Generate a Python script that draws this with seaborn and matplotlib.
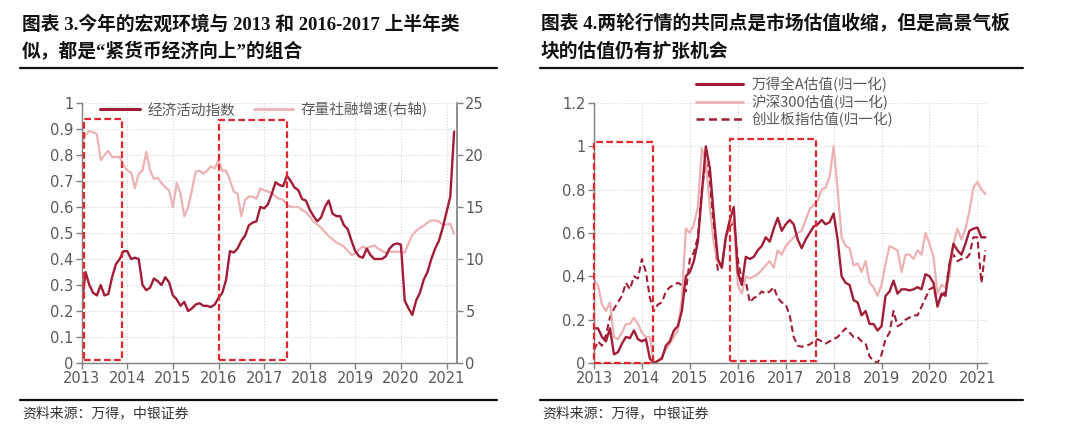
import numpy as np
import pandas as pd
import matplotlib
matplotlib.use('Agg')
import matplotlib.pyplot as plt
import seaborn as sns
from matplotlib.patches import Rectangle
from matplotlib.lines import Line2D

# monthly data, Jan 2013 .. Mar 2021
econ_index = [0.22, 0.35, 0.30, 0.27, 0.26, 0.30, 0.26, 0.265, 0.33, 0.38, 0.40, 0.43,
              0.43, 0.40, 0.405, 0.40, 0.30, 0.28, 0.29, 0.325, 0.315, 0.30, 0.33, 0.31,
              0.26, 0.245, 0.22, 0.235, 0.20, 0.21, 0.225, 0.23, 0.22, 0.22, 0.215, 0.225,
              0.25, 0.27, 0.32, 0.43, 0.425, 0.44, 0.47, 0.49, 0.53, 0.54, 0.545, 0.60,
              0.595, 0.61, 0.65, 0.695, 0.685, 0.68, 0.72, 0.70, 0.675, 0.665, 0.63, 0.625,
              0.59, 0.565, 0.545, 0.56, 0.60, 0.625, 0.575, 0.565, 0.565, 0.53, 0.515, 0.47,
              0.43, 0.41, 0.405, 0.44, 0.415, 0.40, 0.40, 0.40, 0.41, 0.44, 0.455, 0.46,
              0.455, 0.24, 0.21, 0.185, 0.24, 0.27, 0.32, 0.35, 0.40, 0.44, 0.47, 0.52,
              0.58, 0.64, 0.89]
credit_growth = [21.1, 21.9, 22.3, 22.2, 22.0, 19.5, 20.0, 20.4, 19.8, 19.8, 19.8, 19.0,
                 18.5, 18.3, 16.8, 18.2, 18.5, 20.3, 18.5, 17.7, 17.8, 17.3, 16.9, 16.6,
                 15.0, 17.3, 16.3, 14.1, 15.0, 16.6, 18.4, 18.5, 18.2, 18.5, 18.9, 18.7,
                 19.5, 18.5, 18.5, 17.6, 16.5, 16.3, 14.1, 15.7, 16.0, 16.0, 15.8, 16.8,
                 16.6, 16.5, 16.3, 16.0, 15.8, 15.7, 15.2, 15.0, 15.0, 15.0, 14.7, 14.5,
                 14.1, 13.6, 13.3, 13.0, 12.6, 12.2, 11.9, 11.6, 11.4, 11.2, 10.8, 10.4,
                 10.5, 10.9, 11.2, 11.0, 11.2, 11.3, 11.0, 10.8, 10.6, 10.7, 10.7, 10.7,
                 10.7, 10.6, 11.5, 12.3, 12.7, 13.0, 13.2, 13.5, 13.7, 13.7, 13.6, 13.3,
                 13.3, 13.4, 12.4]
wind_a = [0.16, 0.16, 0.12, 0.10, 0.16, 0.04, 0.05, 0.09, 0.12, 0.115, 0.15, 0.11,
          0.10, 0.11, 0.02, 0.0, 0.01, 0.02, 0.08, 0.10, 0.15, 0.17, 0.24, 0.40,
          0.42, 0.47, 0.56, 0.78, 1.0, 0.90, 0.68, 0.48, 0.44, 0.58, 0.66, 0.72,
          0.42, 0.36, 0.49, 0.48, 0.49, 0.52, 0.54, 0.58, 0.56, 0.62, 0.67, 0.61,
          0.64, 0.66, 0.64, 0.57, 0.53, 0.57, 0.60, 0.63, 0.64, 0.66, 0.64, 0.65,
          0.69, 0.57, 0.40, 0.37, 0.36, 0.29, 0.28, 0.22, 0.24, 0.18, 0.18, 0.15,
          0.17, 0.31, 0.33, 0.38, 0.32, 0.34, 0.34, 0.335, 0.34, 0.35, 0.34, 0.41,
          0.40, 0.37, 0.26, 0.32, 0.31, 0.45, 0.55, 0.52, 0.50, 0.55, 0.61, 0.62,
          0.625, 0.58, 0.58]
hs300 = [0.38, 0.36, 0.27, 0.24, 0.28, 0.12, 0.11, 0.14, 0.18, 0.18, 0.21, 0.18,
         0.14, 0.12, 0.12, 0.0, 0.01, 0.03, 0.06, 0.09, 0.12, 0.15, 0.30, 0.62,
         0.60, 0.64, 0.72, 0.99, 0.93, 0.72, 0.55, 0.46, 0.44, 0.58, 0.64, 0.66,
         0.36, 0.32, 0.40, 0.39, 0.40, 0.41, 0.43, 0.45, 0.47, 0.44, 0.52, 0.50,
         0.54, 0.56, 0.58, 0.60, 0.61, 0.66, 0.71, 0.73, 0.75, 0.80, 0.81, 0.86,
         1.0, 0.80, 0.58, 0.54, 0.53, 0.45, 0.46, 0.42, 0.47, 0.37, 0.35, 0.31,
         0.36, 0.46, 0.54, 0.53, 0.52, 0.42, 0.50, 0.50, 0.48, 0.52, 0.50, 0.60,
         0.55, 0.49, 0.32, 0.36, 0.35, 0.40, 0.55, 0.62, 0.57, 0.62, 0.70, 0.81,
         0.835, 0.80, 0.78]
chinext = [0.06, 0.10, 0.08, 0.13, 0.21, 0.25, 0.28, 0.31, 0.37, 0.34, 0.40, 0.39,
           0.48, 0.42, 0.30, 0.24, 0.27, 0.28, 0.33, 0.35, 0.36, 0.37, 0.36, 0.33,
           0.48, 0.51, 0.58, 0.80, 0.93, 0.85, 0.60, 0.43, 0.44, 0.58, 0.63, 0.65,
           0.48, 0.38, 0.38, 0.28, 0.30, 0.31, 0.33, 0.32, 0.33, 0.35, 0.30, 0.28,
           0.27, 0.22, 0.12, 0.08, 0.075, 0.08, 0.085, 0.10, 0.11, 0.10, 0.09, 0.10,
           0.11, 0.12, 0.14, 0.16, 0.14, 0.12, 0.12, 0.10, 0.09, 0.03, 0.01, 0.0,
           0.04, 0.11, 0.14, 0.24, 0.17, 0.18, 0.20, 0.21, 0.22, 0.22, 0.26, 0.30,
           0.34, 0.35, 0.27, 0.31, 0.33, 0.46, 0.50, 0.47, 0.48, 0.48, 0.50, 0.58,
           0.58, 0.37, 0.52]

years = [2013, 2014, 2015, 2016, 2017, 2018, 2019, 2020, 2021]
t = 2013 + np.arange(len(econ_index)) / 12.0

# highlighted periods: (x0, x1, y0, y1)
left_boxes = [(2013.04, 2013.88, 0.01, 0.94), (2016.0, 2017.51, 0.01, 0.936)]
right_boxes = [(2013.0, 2014.24, 0.0, 1.02), (2015.84, 2017.64, 0.008, 1.035)]

dark = '#A21C36'
pink = '#EDB1B4'
boxred = '#E3262B'
gray = '#808080'
tickc = '#595959'

sns.set_theme(style='white')
plt.rcParams['font.family'] = ['DejaVu Sans', 'Noto Sans CJK SC']
plt.rcParams['axes.unicode_minus'] = False

fig = plt.figure(figsize=(10.8, 4.4), dpi=100)
ax1 = fig.add_axes([81.7/1080, 1-363/440, (457-81.7)/1080, 260/440])
ax2 = fig.add_axes([594/1080, 1-363/440, (987-594)/1080, 260/440])

cjk = ['Noto Sans CJK SC', 'DejaVu Sans']


def style_axis(ax, yticks, xmax):
    ax.set_xlim(2013, xmax)
    ax.set_xticks(years)
    ax.set_yticks(yticks)
    ax.set_yticklabels([f'{v:g}' for v in yticks])
    ax.grid(True, color='#D6D6D6', linestyle=':', linewidth=0.8)
    for s in ['top', 'right']:
        ax.spines[s].set_visible(False)
    for s in ['left', 'bottom']:
        ax.spines[s].set_color(gray)
        ax.spines[s].set_linewidth(1.0)
    ax.tick_params(axis='both', direction='out', length=4, width=1, color=gray,
                   labelcolor=tickc, labelsize=10.5, pad=2, bottom=True, left=True)
    ax.set_xlabel('')
    ax.set_ylabel('')


# left chart
df_left = pd.DataFrame({'t': t, 'econ': econ_index, 'credit': credit_growth})
ax1b = ax1.twinx()
sns.lineplot(data=df_left, x='t', y='credit', ax=ax1b, color=pink, linewidth=1.6, legend=False)
sns.lineplot(data=df_left, x='t', y='econ', ax=ax1, color=dark, linewidth=1.7, legend=False)
ax1.set_zorder(ax1b.get_zorder() + 1)
ax1.patch.set_visible(False)
style_axis(ax1, np.round(np.arange(0, 1.01, 0.1), 1), 2021.23)
ax1.set_ylim(0, 1)
ax1b.set_ylim(0, 25)
ax1b.set_yticks([0, 5, 10, 15, 20, 25])
ax1b.set_ylabel('')
for s in ['top', 'left', 'bottom']:
    ax1b.spines[s].set_visible(False)
ax1b.spines['right'].set_color(gray)
ax1b.tick_params(axis='y', direction='out', length=4, width=1, color=gray,
                 labelcolor=tickc, labelsize=10.5, pad=2, right=True)
ax1b.grid(False)
for x0, x1, y0, y1 in left_boxes:
    ax1.add_patch(Rectangle((x0, y0), x1 - x0, y1 - y0, fill=False, edgecolor=boxred,
                            linestyle=(0, (3, 1.5)), linewidth=1.6, clip_on=False, zorder=5))
h1 = [Line2D([], [], color=dark, lw=2.2), Line2D([], [], color=pink, lw=2.0)]
leg1 = ax1.legend(h1, ['经济活动指数', '存量社融增速(右轴)'], ncol=2, frameon=False,
                  loc='center left', bbox_to_anchor=(0.05, 0.973), handlelength=2.7,
                  columnspacing=1.3, handletextpad=0.5, borderpad=0, borderaxespad=0,
                  prop={'family': cjk, 'size': 10.5})
for txt in leg1.get_texts():
    txt.set_color(tickc)

# right chart
df_right = pd.DataFrame({'t': t, 'wind_a': wind_a, 'hs300': hs300, 'chinext': chinext})
sns.lineplot(data=df_right, x='t', y='chinext', ax=ax2, color=dark, linewidth=1.5,
             linestyle=(0, (3.2, 1.8)), legend=False)
sns.lineplot(data=df_right, x='t', y='hs300', ax=ax2, color=pink, linewidth=1.6, legend=False)
sns.lineplot(data=df_right, x='t', y='wind_a', ax=ax2, color=dark, linewidth=1.7, legend=False)
style_axis(ax2, np.round(np.arange(0, 1.21, 0.2), 1), 2021.2)
ax2.set_ylim(0, 1.2)
for x0, x1, y0, y1 in right_boxes:
    ax2.add_patch(Rectangle((x0, y0), x1 - x0, y1 - y0, fill=False, edgecolor=boxred,
                            linestyle=(0, (3, 1.5)), linewidth=1.6, clip_on=False, zorder=5))
h2 = [Line2D([], [], color=dark, lw=2.2), Line2D([], [], color=pink, lw=2.0),
      Line2D([], [], color=dark, lw=1.8, linestyle=(0, (3.2, 1.8)))]
leg2 = ax2.legend(h2, ['万得全A估值(归一化)', '沪深300估值(归一化)', '创业板指估值(归一化)'],
                  frameon=False, loc='upper left', bbox_to_anchor=(0.26, 1.10),
                  handlelength=3.2, handletextpad=0.6, labelspacing=0.15, borderpad=0,
                  borderaxespad=0, prop={'family': cjk, 'size': 10.5})
for txt in leg2.get_texts():
    txt.set_color(tickc)

# titles, rules and source notes
title_font = ['Liberation Serif', 'Noto Sans CJK SC']
fig.text(22/1080, 1-24/440, '图表 3.今年的宏观环境与 2013 和 2016-2017 上半年类',
         family=title_font, fontsize=13.5, weight='bold', va='center', color='#111111')
fig.text(22/1080, 1-51/440, '似，都是“紧货币经济向上”的组合',
         family=title_font, fontsize=13.5, weight='bold', va='center', color='#111111')
fig.text(541/1080, 1-24/440, '图表 4.两轮行情的共同点是市场估值收缩，但是高景气板',
         family=title_font, fontsize=13.5, weight='bold', va='center', color='#111111')
fig.text(541/1080, 1-51/440, '块的估值仍有扩张机会',
         family=title_font, fontsize=13.5, weight='bold', va='center', color='#111111')
for x0, x1 in [(20, 497), (540, 1023)]:
    for yy in [68, 400]:
        fig.add_artist(Line2D([x0/1080, x1/1080], [1-yy/440, 1-yy/440],
                              color='#111111', lw=1.6))
    fig.text((x0 + 2)/1080, 1-413/440, '资料来源：万得，中银证券', family=cjk,
             fontsize=10, style='italic', va='center', color='#333333')

fig.savefig('out.png', dpi=100)
